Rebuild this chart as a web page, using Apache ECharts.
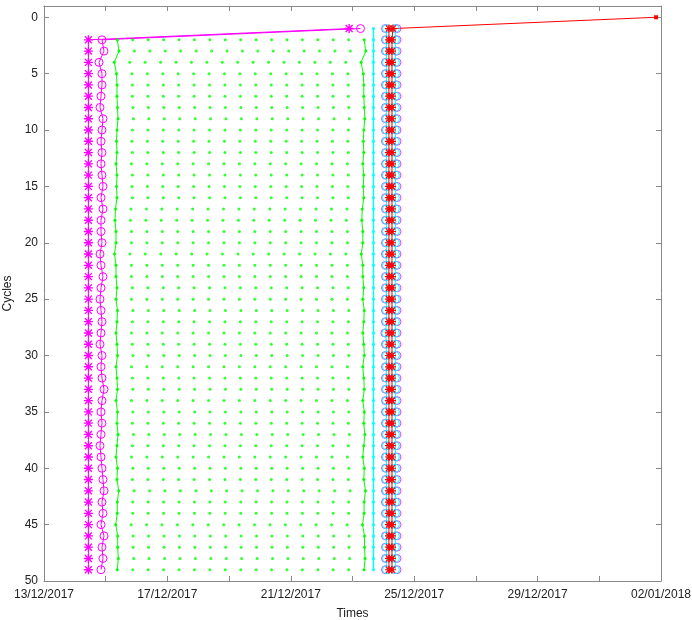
<!DOCTYPE html>
<html>
<head>
<meta charset="utf-8">
<script src="https://cdn.jsdelivr.net/npm/echarts@6/dist/echarts.min.js"></script>
<style>
html,body{margin:0;padding:0;background:#fff;}
#chart{width:692px;height:620px;}
</style>
</head>
<body>
<div id="chart"></div>
<script>
// ---- data (times in days after 13/12/2017 00:00) ----
const START_DATE = Date.UTC(2017, 11, 13);
const cycles = [1,2,3,4,5,6,7,8,9,10,11,12,13,14,15,16,17,18,19,20,21,22,23,24,25,26,27,28,29,30,31,32,33,34,35,36,37,38,39,40,41,42,43,44,45,46,47,48,49];
const redCycles = [0,1,2,3,4,5,6,7,8,9,10,11,12,13,14,15,16,17,18,19,20,21,22,23,24,25,26,27,28,29,30,31,32,33,34,35,36,37,38,39,40,41,42,43,44,45,46,47,48,49];
const yTicks = [0,5,10,15,20,25,30,35,40,45,50];

const tMagStar = [9.89,1.44,1.44,1.44,1.44,1.44,1.44,1.44,1.44,1.44,1.44,1.44,1.44,1.44,1.44,1.44,1.44,1.44,1.44,1.44,1.44,1.44,1.44,1.44,1.44,1.44,1.44,1.44,1.44,1.44,1.44,1.44,1.44,1.44,1.44,1.44,1.44,1.44,1.44,1.44,1.44,1.44,1.44,1.44,1.44,1.44,1.44,1.44,1.44];
const tMagCirc = [10.26,1.88,1.945,1.783,1.88,1.88,1.848,1.815,1.912,1.88,1.848,1.88,1.848,1.88,1.912,1.848,1.912,1.848,1.848,1.88,1.815,1.848,1.912,1.848,1.815,1.848,1.88,1.848,1.815,1.88,1.848,1.88,1.945,1.88,1.848,1.88,1.848,1.815,1.848,1.88,1.912,1.945,1.88,1.912,1.848,1.945,1.88,1.912,1.848];
// green runs: start time of each cycle 2..49, and the half-day steps of its points
const tGreenStart = [2.376,2.431,2.279,2.350,2.366,2.366,2.382,2.399,2.366,2.350,2.366,2.334,2.366,2.350,2.366,2.318,2.301,2.334,2.334,2.285,2.334,2.334,2.366,2.334,2.382,2.366,2.334,2.366,2.382,2.334,2.366,2.382,2.334,2.382,2.366,2.399,2.366,2.334,2.382,2.366,2.421,2.376,2.376,2.324,2.389,2.389,2.408,2.376];
const greenSteps = [0,0.5,1,1.5,2,2.5,3,3.5,4,4.5,5,5.5,6,6.5,7,7.5,8];
const tCyanLine = [10.68,10.68,10.68,10.68,10.68,10.68,10.68,10.68,10.68,10.68,10.68,10.68,10.68,10.68,10.68,10.68,10.68,10.68,10.68,10.68,10.68,10.68,10.68,10.68,10.68,10.68,10.68,10.68,10.68,10.68,10.68,10.68,10.68,10.68,10.68,10.68,10.68,10.68,10.68,10.68,10.68,10.68,10.68,10.68,10.68,10.68,10.68,10.68,10.68];
const tCyanCircA = [11.10,11.10,11.10,11.10,11.10,11.10,11.10,11.10,11.10,11.10,11.10,11.10,11.10,11.10,11.10,11.10,11.10,11.10,11.10,11.10,11.10,11.10,11.10,11.10,11.10,11.10,11.10,11.08,11.10,11.10,11.10,11.10,11.10,11.10,11.10,11.10,11.10,11.10,11.10,11.10,11.10,11.10,11.10,11.10,11.10,11.10,11.10,11.10,11.10];
const tCyanCircB = [11.39,11.39,11.39,11.39,11.39,11.39,11.39,11.39,11.39,11.39,11.39,11.39,11.39,11.39,11.39,11.39,11.39,11.39,11.39,11.39,11.39,11.39,11.39,11.39,11.39,11.39,11.39,11.39,11.39,11.39,11.39,11.39,11.39,11.39,11.39,11.39,11.39,11.39,11.39,11.39,11.39,11.39,11.39,11.39,11.39,11.39,11.39,11.39,11.39];
const tMagCircA = [11.07,11.07,11.07,11.07,11.07,11.07,11.07,11.07,11.07,11.07,11.07,11.07,11.07,11.07,11.07,11.07,11.07,11.07,11.07,11.07,11.07,11.07,11.07,11.07,11.07,11.07,11.07,11.05,11.07,11.07,11.07,11.07,11.07,11.07,11.07,11.07,11.07,11.07,11.07,11.07,11.07,11.07,11.07,11.07,11.07,11.07,11.07,11.07,11.07];
const tMagCircB = [11.44,11.44,11.44,11.44,11.44,11.44,11.44,11.44,11.44,11.44,11.44,11.44,11.44,11.44,11.44,11.44,11.44,11.44,11.44,11.44,11.44,11.44,11.44,11.44,11.44,11.44,11.44,11.44,11.44,11.44,11.44,11.44,11.44,11.44,11.44,11.44,11.44,11.44,11.44,11.44,11.44,11.44,11.44,11.44,11.44,11.44,11.44,11.44,11.44];
const tRedStarA = [11.18,11.18,11.18,11.18,11.18,11.18,11.18,11.18,11.18,11.18,11.18,11.18,11.18,11.18,11.18,11.18,11.18,11.18,11.18,11.18,11.18,11.18,11.18,11.18,11.18,11.18,11.18,11.18,11.18,11.18,11.18,11.18,11.18,11.18,11.18,11.18,11.18,11.18,11.18,11.18,11.18,11.18,11.18,11.18,11.18,11.18,11.18,11.18,11.18];
const tRedStarB = [19.84,11.31,11.28,11.28,11.28,11.28,11.28,11.28,11.28,11.28,11.28,11.28,11.28,11.28,11.28,11.28,11.28,11.28,11.28,11.28,11.28,11.28,11.28,11.28,11.28,11.28,11.28,11.28,11.28,11.28,11.28,11.28,11.28,11.28,11.28,11.28,11.28,11.28,11.28,11.28,11.28,11.28,11.28,11.28,11.28,11.28,11.28,11.28,11.28,11.28];

// ---- build ----
const DAY = 86400000;
function pad(n){return (n<10?'0':'')+n;}
function fmtDay(v){
  const d = new Date(START_DATE + v*DAY);
  return pad(d.getUTCDate())+'/'+pad(d.getUTCMonth()+1)+'/'+d.getUTCFullYear();
}
function pts(ts, cs){ return ts.map((t,i)=>[t, cs[i]]); }
const ASTER = 'path://M8.5,0 L11.5,0 L11.5,20 L8.5,20 Z M0,8.5 L20,8.5 L20,11.5 L0,11.5 Z M3.3,1.2 L18.8,16.7 L16.7,18.8 L1.2,3.3 Z M16.7,1.2 L18.8,3.3 L3.3,18.8 L1.2,16.7 Z';
const MAG='#ff00ff', GRN='#00ff00', CYN='#00ffff', RED='#ff0000';
const greenCycles = cycles.slice(1);
const lastStep = greenSteps[greenSteps.length-1];
const greenLeft = tGreenStart.map((t,i)=>[t+greenSteps[0], greenCycles[i]]);
const greenRight = tGreenStart.map((t,i)=>[t+lastStep, greenCycles[i]]);
const greenDots = [];
tGreenStart.forEach((t,i)=>{
  for(let k=1;k<greenSteps.length-1;k++) greenDots.push([t+greenSteps[k], greenCycles[i]]);
});
const redB = pts(tRedStarB, redCycles);
redB[0] = {value: redB[0], symbol:'rect', symbolSize:4};

const FONT = '"Liberation Sans", Arial, sans-serif';
const AX = '#888';
function lineS(data, color, symbol, size, hollow, width){
  return {type:'line', data, symbol, symbolSize:size, silent:true,
    itemStyle: hollow ? {color:'rgba(0,0,0,0)', borderColor:color, borderWidth:1} : {color},
    lineStyle:{color, width: width||1}, emphasis:{disabled:true}, z:2};
}
function scatS(data, color, symbol, size, hollow){
  return {type:'scatter', data, symbol, symbolSize:size, silent:true,
    itemStyle: hollow ? {color:'rgba(0,0,0,0)', borderColor:color, borderWidth:1} : {color},
    emphasis:{disabled:true}, z:2};
}
function xAx(pos, showLabels){
  return {type:'value', position:pos, min:0, max:20, interval:2,
    axisLine:{show:true, onZero:false, lineStyle:{color:AX}},
    axisTick:{show:true, inside:true, length:5, lineStyle:{color:AX}},
    axisLabel:{show:showLabels, color:'#222', fontSize:12, fontFamily:FONT, margin:8,
      formatter:v => (Math.round(v)%4===0 ? fmtDay(v) : '')},
    splitLine:{show:false},
    name: showLabels ? 'Times' : '', nameLocation:'middle', nameGap:27,
    nameTextStyle:{color:'#222', fontSize:12, fontFamily:FONT}};
}
function yAx(pos, showLabels){
  return {type:'value', position:pos, inverse:true, min:-1, max:50,
    axisLine:{show:true, onZero:false, lineStyle:{color:AX}},
    axisTick:{show:true, inside:true, length:5, customValues:yTicks, lineStyle:{color:AX}},
    axisLabel:{show:showLabels, customValues:yTicks, color:'#222', fontSize:12, fontFamily:FONT, margin:6},
    splitLine:{show:false},
    name: showLabels ? 'Cycles' : '', nameLocation:'middle', nameGap:21,
    nameTextStyle:{color:'#222', fontSize:12, fontFamily:FONT}};
}
const chart = echarts.init(document.getElementById('chart'), null, {renderer:'canvas'});
chart.setOption({
  animation:false,
  backgroundColor:'#fff',
  grid:{left:44, right:31, top:6, bottom:39, containLabel:false, outerBoundsMode:'none'},
  xAxis:[xAx('bottom', true), xAx('top', false)],
  yAxis:[yAx('left', true), yAx('right', false)],
  series:[
    lineS(pts(tMagStar, cycles), MAG, ASTER, 9, false),
    lineS(pts(tMagCirc, cycles), MAG, 'circle', 8, true),
    scatS(greenDots, GRN, 'circle', 3, false),
    lineS(greenLeft, GRN, 'circle', 3, false),
    lineS(greenRight, GRN, 'circle', 3, false),
    lineS(pts(tCyanLine, cycles), CYN, 'circle', 3, false, 1.5),
    scatS(pts(tMagCircA, cycles), MAG, 'circle', 8, true),
    scatS(pts(tMagCircB, cycles), MAG, 'circle', 8, true),
    lineS(pts(tCyanCircA, cycles), CYN, 'circle', 8, true),
    lineS(pts(tCyanCircB, cycles), CYN, 'circle', 8, true),
    lineS(pts(tRedStarA, cycles), RED, ASTER, 8, false),
    lineS(redB, RED, ASTER, 8, false)
  ]
});
</script>
</body>
</html>
